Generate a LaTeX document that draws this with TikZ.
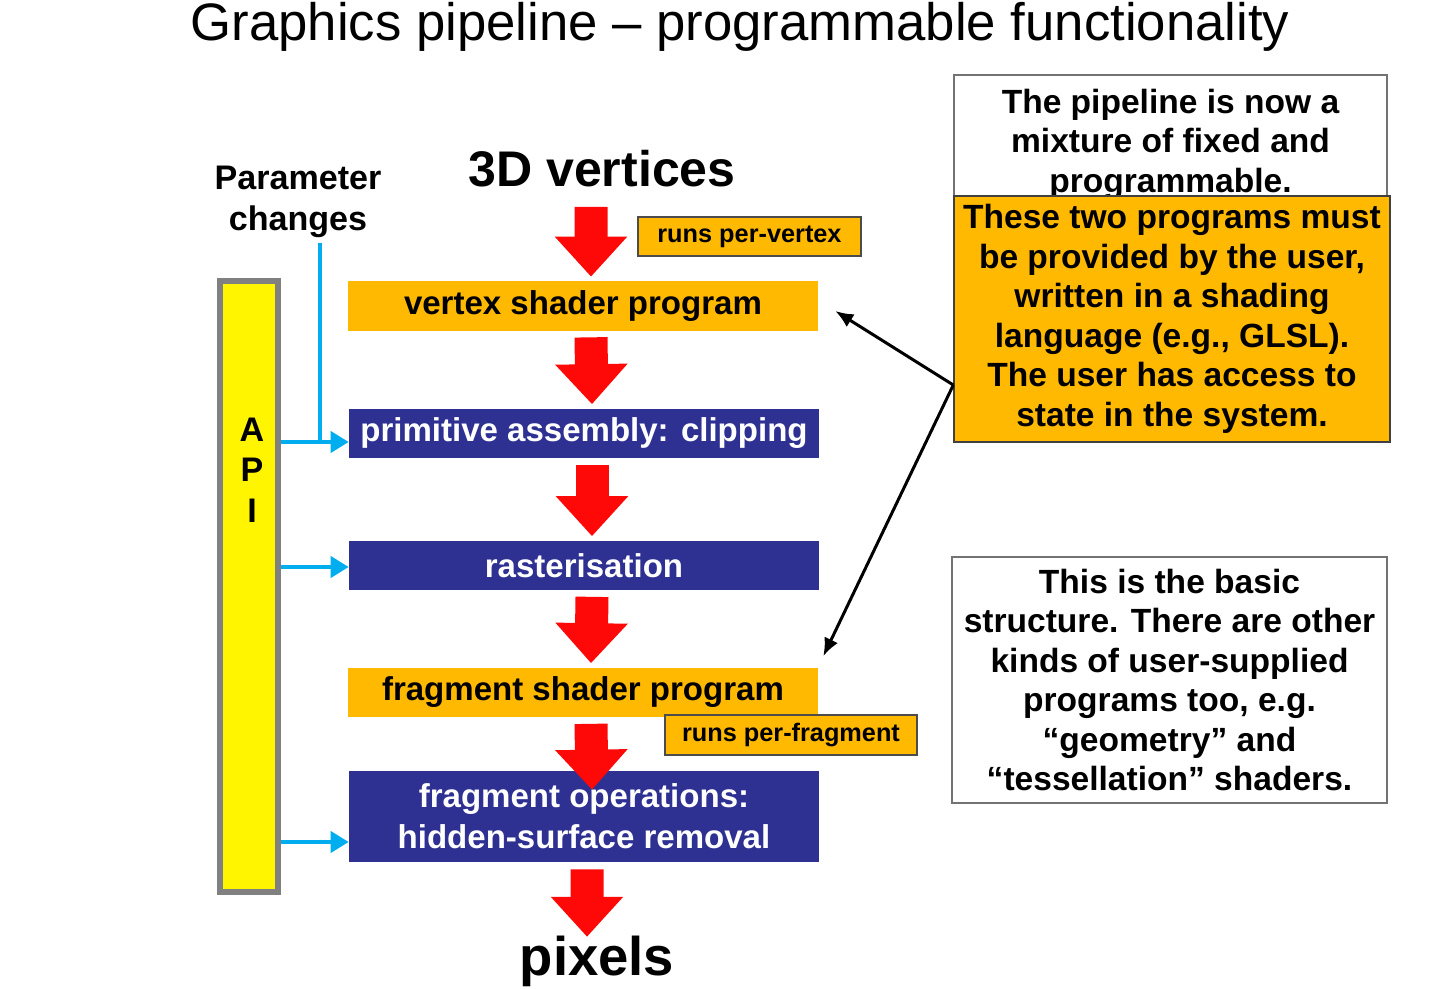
\documentclass[tikz,border=0pt]{standalone}
\usepackage{fontspec}
\setmainfont{Liberation Sans}
\usetikzlibrary{arrows.meta, positioning}
\definecolor{ShaderOrange}{RGB}{255,185,0}
\definecolor{StageBlue}{RGB}{46,49,146}
\definecolor{ApiYellow}{RGB}{255,245,0}
\definecolor{ParamCyan}{RGB}{0,174,239}
\definecolor{FlowRed}{RGB}{255,8,8}

\begin{document}
\begin{tikzpicture}[
    x=0.02cm, y=-0.02cm,
    font=\bfseries,
    stage/.style={minimum width=9.4cm, minimum height=1cm, inner sep=0pt,
        font=\fontsize{18.8}{23.3}\selectfont\bfseries, align=center},
    shader/.style={stage, fill=ShaderOrange, text=black},
    fixed/.style={stage, fill=StageBlue, text=white},
    runs/.style={draw=black!70, line width=0.03cm, fill=ShaderOrange, inner sep=0pt,
        font=\fontsize{14.4}{17}\selectfont\bfseries},
    note/.style={line width=0.03cm, align=center, inner sep=0pt,
        font=\fontsize{19.1}{22.5}\selectfont\bfseries},
    flow/.style={FlowRed, line width=0.66cm, -{Triangle[length=0.8cm, width=1.4cm]}},
    param/.style={ParamCyan, line width=0.08cm},
    paramarrow/.style={param, -{Triangle[length=0.36cm, width=0.42cm]}},
    pointer/.style={black, line width=0.06cm, -{Latex[length=0.36cm, width=0.3cm]}},
]

% page
\fill[white] (0,0) rectangle (1433,989);
\useasboundingbox (0,0) rectangle (1433,989);

\node[inner sep=0pt, font=\fontsize{30}{34}\selectfont] (title) at (740,27)
    {Graphics pipeline – programmable functionality};

% what goes in, what comes out
\node[inner sep=0pt, font=\fontsize{28.5}{34}\selectfont\bfseries] (vtx) at (602,169) {3D vertices};
\node[inner sep=0pt, font=\fontsize{31}{36}\selectfont\bfseries] (pix) at (597,961) {pixels};
\node[inner sep=0pt, align=center, font=\fontsize{19.4}{23.3}\selectfont\bfseries] (param) at (298,202)
    {Parameter\\changes};

% API bar
\node[draw=gray, line width=0.12cm, fill=ApiYellow, minimum width=1.16cm,
    minimum height=12.22cm, inner sep=0pt] (api) at (249,586.5) {};
\node[align=center, font=\fontsize{19.4}{23}\selectfont\bfseries] (apitxt) at (252,470) {A\\P\\I};

% pipeline stages
\node[shader] (vsp) at (583,306) {vertex shader program};
\node[fixed] (pac) at (584,433.5) {primitive assembly: clipping};
\node[fixed] (ras) at (584,565.5) {rasterisation};
\node[shader] (fsp) at (583,692.5) {fragment shader program};
\node[fixed, minimum height=1.82cm] (fop) at (584,816.5) {fragment operations:\\hidden-surface removal};

\node[runs, minimum width=4.46cm, minimum height=0.78cm] (rpv) at (749.5,236.5) {runs per-vertex};
\node[runs, minimum width=5.04cm, minimum height=0.8cm] (rpf) at (791,735) {runs per-fragment};

% red flow arrows
\draw[flow] ([xshift=-0.22cm, yshift=-0.38cm]vtx.south) -- ([xshift=0.16cm, yshift=0.08cm]vsp.north);
\foreach \a/\b in {vsp/pac, pac/ras, ras/fsp}
    \draw[flow] ([xshift=0.16cm, yshift=-0.12cm]\a.south) -- ([xshift=0.16cm, yshift=0.08cm]\b.north);
\draw[flow] ([xshift=0.16cm, yshift=-0.12cm]fsp.south) -- ([xshift=0.16cm, yshift=-0.38cm]fop.north);
\draw[flow] ([xshift=0.06cm, yshift=-0.14cm]fop.south) -- ([xshift=-0.2cm, yshift=-0.03cm]pix.north);

% cyan parameter feeds
\coordinate (pin) at ([yshift=-0.17cm]pac.west);
\coordinate (rin) at ([yshift=-0.03cm]ras.west);
\coordinate (oin) at ([yshift=-0.51cm]fop.west);
\coordinate (pj) at ([xshift=-0.58cm]pin);
\coordinate (ptop) at ([yshift=-0.1cm]param.south);
\draw[param] (ptop -| pj) -- (pj);
\foreach \c in {pin, rin, oin}
    \draw[paramarrow] (api.east |- \c) -- (\c);

% notes on the right
\node[note, draw=black!55, fill=white, minimum width=8.66cm, minimum height=2.76cm] (note1) at (1170.5,144)
    {The pipeline is now a\\mixture of fixed and\\programmable.};
\node[note, draw=black!75, fill=ShaderOrange, minimum width=8.72cm, minimum height=4.92cm] (note2) at (1172,319)
    {These two programs must\\be provided by the user,\\written in a shading\\language (e.g., GLSL).\\The user has access to\\state in the system.};
\node[note, draw=black!55, fill=white, minimum width=8.7cm, minimum height=4.92cm] (note3) at (1169.5,680)
    {This is the basic\\structure. There are other\\kinds of user-supplied\\programs too, e.g.\\“geometry” and\\“tessellation” shaders.};

\coordinate (src) at ([yshift=-1.32cm]note2.west);
\draw[pointer] (src) -- ([xshift=0.34cm, yshift=-0.1cm]vsp.east);
\draw[pointer] (src) -- ([xshift=0.1cm, yshift=0.22cm]fsp.north east);

\end{tikzpicture}
\end{document}
